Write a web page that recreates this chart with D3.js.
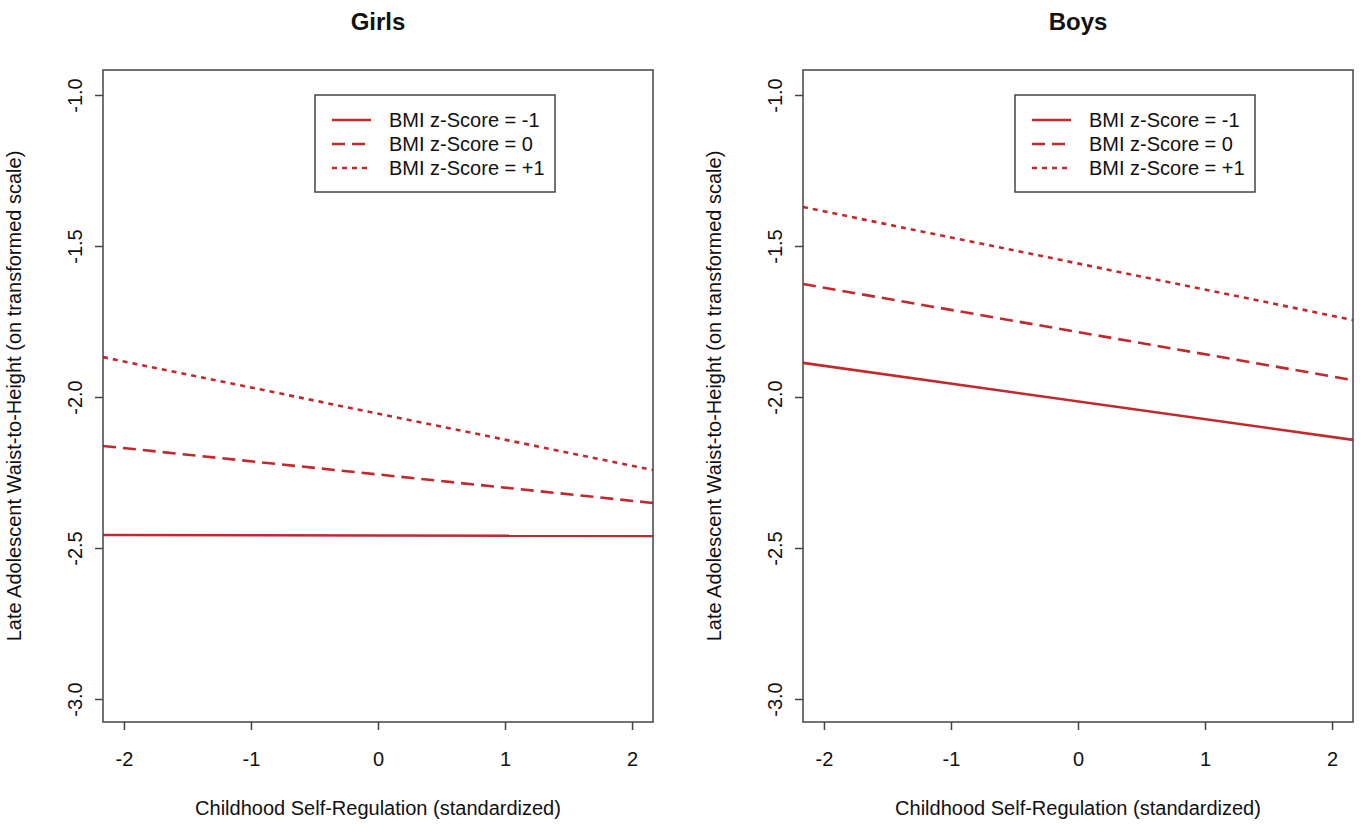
<!DOCTYPE html>
<html>
<head>
<meta charset="utf-8">
<script src="https://cdn.jsdelivr.net/npm/d3@7"></script>
<style>
  body { margin: 0; background: #fff; }
  svg text { font-family: "Liberation Sans", Arial, Helvetica, sans-serif; fill: #111; }
</style>
</head>
<body>
<svg id="chart" width="1362" height="825"></svg>
<script>
let WIDTH = 1362, HEIGHT = 825;

// data (values at the left and right edges of the plot)
let panels = ["Girls", "Boys"];
let xEnds = [-2.165, 2.165];
let seriesNames = ["BMI z-Score = -1", "BMI z-Score = 0", "BMI z-Score = +1"];
let girlsValues = [[-2.457, -2.46], [-2.162, -2.351], [-1.868, -2.242]];
let boysValues = [[-1.887, -2.142], [-1.626, -1.944], [-1.371, -1.745]];
let xTicks = [-2, -1, 0, 1, 2];
let yTicks = [-1.0, -1.5, -2.0, -2.5, -3.0];

let xLabel = "Childhood Self-Regulation (standardized)";
let yLabel = "Late Adolescent Waist-to-Height (on transformed scale)";

let RED = "#c4272c";
let dashes = [null, "13,7", "5,5"];
let FS = 20;

let svg = d3.select("#chart");

function drawPanel(left, title, values, idx) {
    let M = { top: 70, bottom: 722, left: left, right: left + 550 };

    let x = d3.scaleLinear().domain(xEnds).range([M.left, M.right]);
    let y = d3.scaleLinear().domain([-1.0, -3.0]).range([95, 699]);

    let g = svg.append("g").attr("class", "panel");

    let clipId = "clip" + idx;
    g.append("clipPath").attr("id", clipId)
        .append("rect")
        .attr("x", M.left).attr("y", M.top)
        .attr("width", M.right - M.left).attr("height", M.bottom - M.top);

    // lines
    let line = d3.line().x(d => x(d[0])).y(d => y(d[1]));
    values.forEach(function(v, i) {
        g.append("path")
            .datum([[xEnds[0], v[0]], [xEnds[1], v[1]]])
            .attr("d", line)
            .attr("clip-path", `url(#${clipId})`)
            .attr("fill", "none")
            .attr("stroke", RED)
            .attr("stroke-width", 2.6)
            .attr("stroke-dasharray", dashes[i]);
    });

    // box
    g.append("rect")
        .attr("x", M.left).attr("y", M.top)
        .attr("width", M.right - M.left).attr("height", M.bottom - M.top)
        .attr("fill", "none").attr("stroke", "#444").attr("stroke-width", 1.5);

    // x axis
    let xAxis = d3.axisBottom(x).tickValues(xTicks).tickSize(8).tickPadding(22)
        .tickFormat(d3.format("d"));
    let gx = g.append("g").attr("transform", `translate(0, ${M.bottom})`).call(xAxis);
    gx.select(".domain").remove();
    gx.selectAll(".tick line").attr("stroke", "#444").attr("stroke-width", 1.5);
    gx.selectAll(".tick text").attr("font-size", FS).attr("fill", "#111")
        .attr("font-family", "Liberation Sans, Arial, sans-serif")
        .text(d => d < 0 ? "-" + Math.abs(d) : d);

    // y axis (labels rotated like R las=0)
    let yAxis = d3.axisLeft(y).tickValues(yTicks).tickSize(8).tickFormat(d3.format(".1f"));
    let gy = g.append("g").attr("transform", `translate(${M.left}, 0)`).call(yAxis);
    gy.select(".domain").remove();
    gy.selectAll(".tick line").attr("stroke", "#444").attr("stroke-width", 1.5);
    gy.selectAll(".tick text")
        .attr("font-size", FS).attr("fill", "#111")
        .attr("font-family", "Liberation Sans, Arial, sans-serif")
        .attr("x", null).attr("dy", null)
        .attr("text-anchor", "middle")
        .attr("transform", "translate(-21, 0) rotate(-90)")
        .text(d => d3.format(".1f")(d).replace("−", "-"));

    // titles
    g.append("text")
        .attr("x", (M.left + M.right) / 2).attr("y", 30)
        .attr("text-anchor", "middle")
        .attr("font-size", 24).attr("font-weight", "bold")
        .text(title);

    g.append("text")
        .attr("x", (M.left + M.right) / 2).attr("y", 815)
        .attr("text-anchor", "middle")
        .attr("font-size", FS)
        .text(xLabel);

    g.append("text")
        .attr("text-anchor", "middle")
        .attr("font-size", FS)
        .attr("transform", `translate(${M.left - 82}, ${(M.top + M.bottom) / 2}) rotate(-90)`)
        .text(yLabel);

    // legend
    let lx = M.left + 212, ly = 95;
    let lg = g.append("g").attr("transform", `translate(${lx}, ${ly})`);
    lg.append("rect").attr("width", 240).attr("height", 97)
        .attr("fill", "#fff").attr("stroke", "#444").attr("stroke-width", 1.5);
    seriesNames.forEach(function(name, i) {
        let yy = 25 + i * 24;
        lg.append("line")
            .attr("x1", 17).attr("x2", 56).attr("y1", yy).attr("y2", yy)
            .attr("stroke", RED).attr("stroke-width", 2.6)
            .attr("stroke-dasharray", dashes[i]);
        lg.append("text")
            .attr("x", 74).attr("y", yy + 7)
            .attr("font-size", FS)
            .text(name);
    });
}

drawPanel(103, panels[0], girlsValues, 0);
drawPanel(803, panels[1], boysValues, 1);
</script>
</body>
</html>
